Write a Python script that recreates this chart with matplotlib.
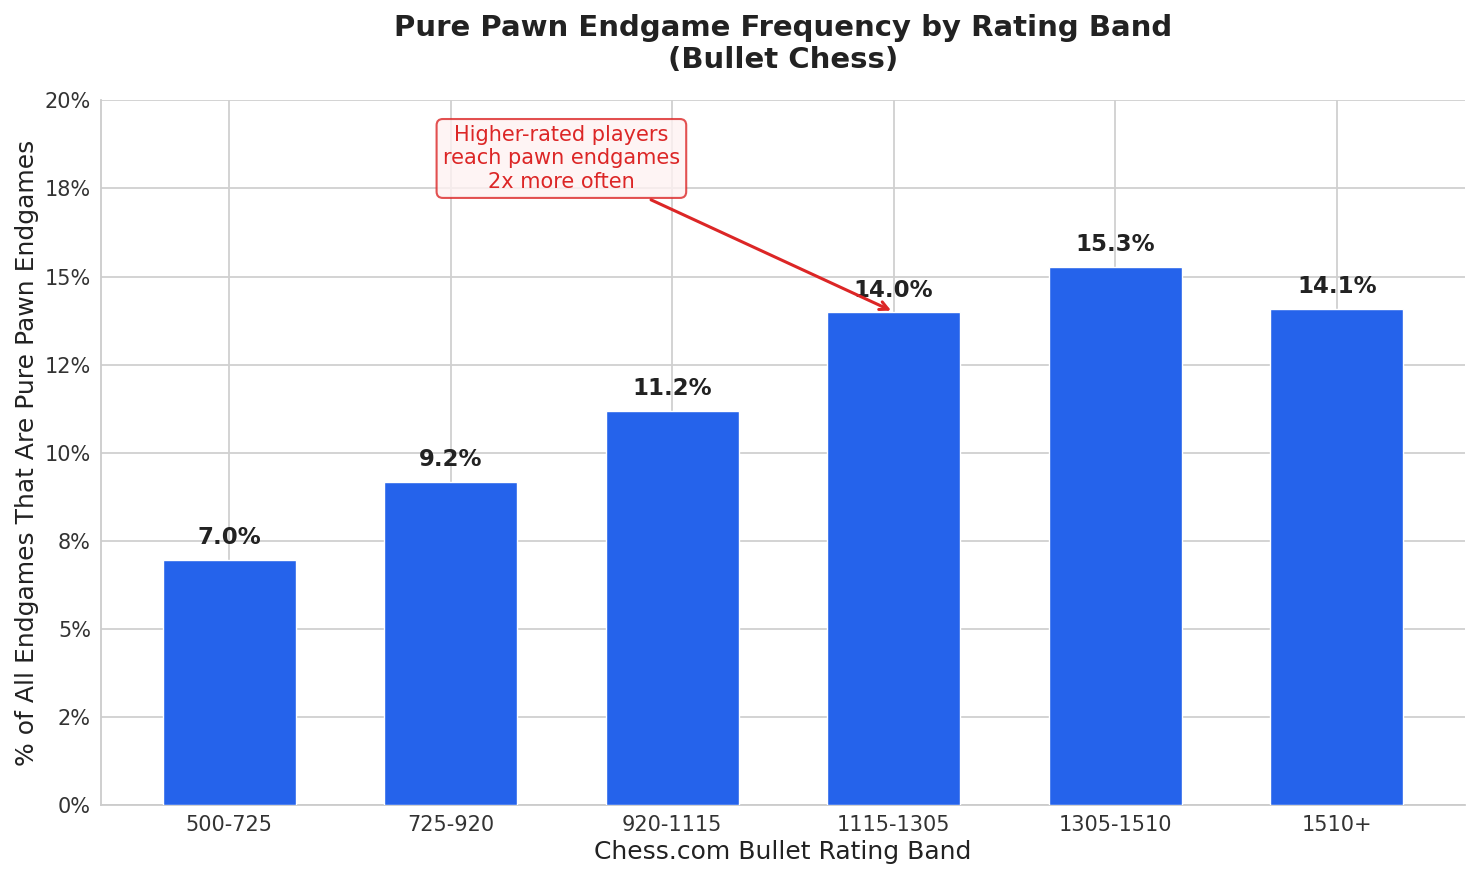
import numpy as np
import matplotlib
matplotlib.use("Agg")
import matplotlib.pyplot as plt
import seaborn as sns
from matplotlib.ticker import MultipleLocator, FuncFormatter

bands = ['500-725', '725-920', '920-1115', '1115-1305', '1305-1510', '1510+']
pct = [6.96, 9.18, 11.19, 13.98, 15.28, 14.09]
labels = ['7.0%', '9.2%', '11.2%', '14.0%', '15.3%', '14.1%']

sns.set_style('whitegrid')
plt.rcParams['font.family'] = ['DejaVu Sans']

fig, ax = plt.subplots(figsize=(14.8, 8.8), dpi=100)
x = np.arange(len(bands))
ax.bar(x, pct, width=0.6, color='#2563EB', zorder=3)

for xi, v, lab in zip(x, pct, labels):
    ax.text(xi, v + 0.3, lab, ha='center', va='bottom', fontsize=16.5,
            fontweight='bold', color='#222222', zorder=4)

ax.set_xticks(x)
ax.set_xticklabels(bands, fontsize=15, color='#333333')
ax.set_ylim(0, 20)
ax.yaxis.set_major_locator(MultipleLocator(2.5))
ax.yaxis.set_major_formatter(FuncFormatter(lambda v, p: '%.0f%%' % v))
ax.tick_params(axis='y', labelsize=15, colors='#333333')
ax.tick_params(axis='x', colors='#333333')
ax.set_xlabel('Chess.com Bullet Rating Band', fontsize=18, color='#222222')
ax.set_ylabel('% of All Endgames That Are Pure Pawn Endgames', fontsize=18, color='#222222')
ax.set_title('Pure Pawn Endgame Frequency by Rating Band\n(Bullet Chess)',
             fontsize=21, fontweight='bold', color='#222222', pad=23)

ax.grid(True, color='#d0d0d0', linewidth=1.3, zorder=0)
ax.set_axisbelow(True)
for s in ['top', 'right']:
    ax.spines[s].set_visible(False)
for s in ['left', 'bottom']:
    ax.spines[s].set_color('#cccccc')
    ax.spines[s].set_linewidth(1.3)

ax.annotate('Higher-rated players\nreach pawn endgames\n2x more often',
            xy=(3.0, 14.0), xytext=(1.5, 18.35),
            ha='center', va='center', fontsize=15, color='#DC2626',
            bbox=dict(boxstyle='round,pad=0.3', facecolor='#FEF2F2',
                      edgecolor='#DC2626', alpha=0.8, linewidth=1.5),
            arrowprops=dict(arrowstyle='->', color='#DC2626', lw=2.2),
            zorder=5)

plt.subplots_adjust(left=0.068, right=0.99, top=0.886, bottom=0.085)
plt.savefig('out.png', dpi=100)
